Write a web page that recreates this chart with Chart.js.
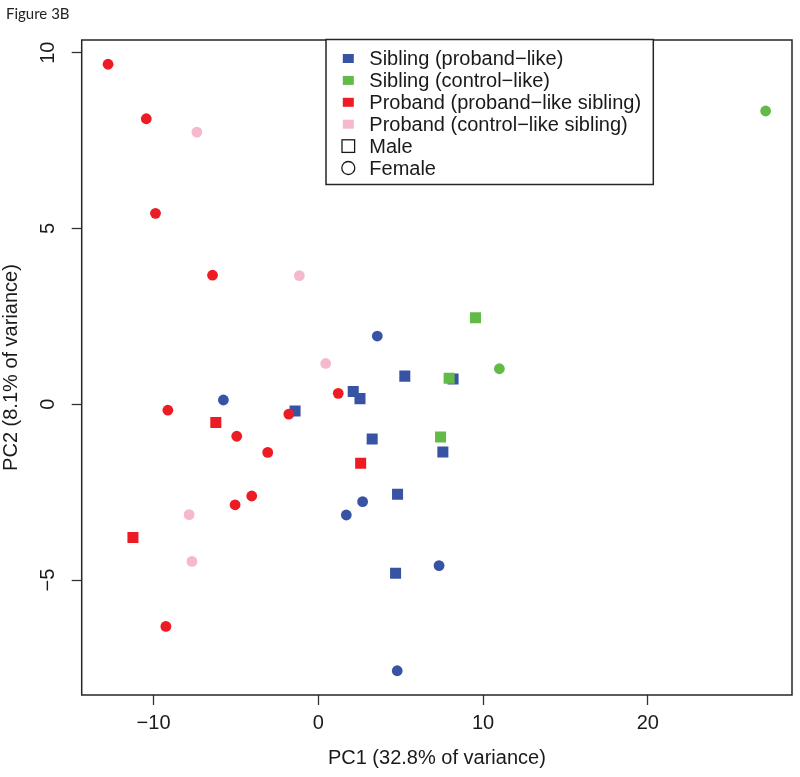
<!DOCTYPE html>
<html>
<head>
<meta charset="utf-8">
<script src="https://cdn.jsdelivr.net/npm/chart.js@4/dist/chart.umd.min.js"></script>
<style>
html,body{margin:0;padding:0;background:#fff;}
#wrap{width:800px;height:777px;position:relative;}
</style>
</head>
<body>
<div id="wrap"><canvas id="c" width="800" height="777"></canvas></div>
<script>
// ---------------- data ----------------
const figureTitle = 'Figure 3B';
const xAxisTitle = 'PC1 (32.8% of variance)';
const yAxisTitle = 'PC2 (8.1% of variance)';
const xTickValues = [-10, 0, 10, 20];
const yTickValues = [-5, 0, 5, 10];
const xRange = [-14.36, 28.75];
const yRange = [-8.27, 10.36];

const legendLabels = [
  'Sibling (proband\u2212like)',
  'Sibling (control\u2212like)',
  'Proband (proband\u2212like sibling)',
  'Proband (control\u2212like sibling)',
  'Male',
  'Female'
];

// [PC1, PC2]
const siblingProbandLikeMale = [
  [-1.41, -0.19], [2.12, 0.36], [2.53, 0.16], [5.25, 0.80], [8.18, 0.72],
  [3.27, -0.99], [7.56, -1.36], [4.81, -2.56], [4.69, -4.81]
];
const siblingProbandLikeFemale = [
  [3.58, 1.94], [-5.76, 0.12], [2.69, -2.77], [1.70, -3.15], [7.33, -4.59], [4.79, -7.58]
];
const siblingControlLikeMale = [
  [9.54, 2.46], [7.94, 0.74], [7.42, -0.93]
];
const siblingControlLikeFemale = [
  [10.99, 1.01], [27.15, 8.34]
];
const probandProbandLikeMale = [
  [-6.22, -0.52], [2.57, -1.68], [-11.25, -3.79]
];
const probandProbandLikeFemale = [
  [-12.76, 9.67], [-10.44, 8.12], [-9.88, 5.43], [-6.42, 3.67], [1.21, 0.31],
  [-9.13, -0.17], [-1.79, -0.28], [-4.95, -0.91], [-3.07, -1.37], [-4.04, -2.61],
  [-5.05, -2.86], [-9.25, -6.32]
];
const probandControlLikeFemale = [
  [-7.37, 7.74], [-1.15, 3.66], [0.45, 1.16], [-7.84, -3.14], [-7.67, -4.47]
];

// ---------------- styles ----------------
const BLUE = '#3953A4', GREEN = '#62BB47', RED = '#ED1C24', PINK = '#F6B9CB';
const FONT = '"Liberation Sans", Arial, Helvetica, sans-serif';
const INK = '#1a1a1a';
const CIRCLE_R = 5.4, RECT_R = 7.8;

const toPts = arr => arr.map(p => ({x: p[0], y: p[1]}));
function ds(label, data, color, shape, order) {
  return {
    label, data: toPts(data),
    backgroundColor: color, borderWidth: 0,
    pointStyle: shape, pointRadius: shape === 'rect' ? RECT_R : CIRCLE_R,
    pointHoverRadius: shape === 'rect' ? RECT_R : CIRCLE_R,
    order
  };
}

const datasets = [
  ds(legendLabels[2] + ' male', probandProbandLikeMale, RED, 'rect', 0),
  ds(legendLabels[2] + ' female', probandProbandLikeFemale, RED, 'circle', 0),
  ds(legendLabels[3] + ' female', probandControlLikeFemale, PINK, 'circle', 1),
  ds(legendLabels[1] + ' male', siblingControlLikeMale, GREEN, 'rect', 2),
  ds(legendLabels[1] + ' female', siblingControlLikeFemale, GREEN, 'circle', 2),
  ds(legendLabels[0] + ' male', siblingProbandLikeMale, BLUE, 'rect', 3),
  ds(legendLabels[0] + ' female', siblingProbandLikeFemale, BLUE, 'circle', 3)
];

const legendColors = [BLUE, GREEN, RED, PINK];

const framePlugin = {
  id: 'frameAndLegend',
  afterDraw(chart) {
    const {ctx, chartArea: a} = chart;
    ctx.save();
    // plot box
    ctx.strokeStyle = '#262626';
    ctx.lineWidth = 1.5;
    ctx.strokeRect(a.left, a.top, a.right - a.left, a.bottom - a.top);

    // legend box
    const bx = a.left + 244.3, by = a.top - 0.5, bw = 327.3, bh = 145;
    ctx.fillStyle = '#fff';
    ctx.fillRect(bx, by, bw, bh);
    ctx.strokeRect(bx, by, bw, bh);

    const mx = a.left + 266.6, tx = a.left + 287.6;
    ctx.font = '20px ' + FONT;
    ctx.textBaseline = 'middle';
    ctx.textAlign = 'left';
    legendLabels.forEach((lab, i) => {
      const cy = by + 19 + i * 21.9;
      if (i < 4) {
        ctx.fillStyle = legendColors[i];
        ctx.fillRect(mx - 5.5, cy - 4.5, 11, 9);
      } else if (i === 4) {
        ctx.strokeStyle = INK; ctx.lineWidth = 1.3;
        ctx.strokeRect(mx - 6.3, cy - 6.3, 12.6, 12.6);
      } else {
        ctx.strokeStyle = INK; ctx.lineWidth = 1.3;
        ctx.beginPath(); ctx.arc(mx, cy, 6.5, 0, Math.PI * 2); ctx.stroke();
      }
      ctx.fillStyle = INK;
      ctx.fillText(lab, tx, cy + 1);
    });
    ctx.restore();
  }
};

const minus = v => String(v).replace('-', '\u2212');

new Chart(document.getElementById('c'), {
  type: 'scatter',
  data: {datasets},
  options: {
    responsive: false,
    animation: false,
    devicePixelRatio: 1,
    events: [],
    layout: {padding: {left: 6, right: 8, top: 0, bottom: 0}, autoPadding: false},
    plugins: {
      legend: {display: false},
      tooltip: {enabled: false},
      title: {
        display: true, text: figureTitle, align: 'start',
        font: {family: 'Lato, "Open Sans", sans-serif', size: 15, weight: 'normal'},
        color: '#222', padding: {top: 5, bottom: 17}
      }
    },
    scales: {
      x: {
        type: 'linear', position: 'bottom', min: xRange[0], max: xRange[1],
        afterBuildTicks: s => { s.ticks = xTickValues.map(v => ({value: v})); },
        afterFit: s => { s.height = 82; },
        ticks: {
          font: {family: FONT, size: 20}, color: INK, padding: 6,
          autoSkip: false, maxRotation: 0, callback: minus
        },
        grid: {display: true, drawOnChartArea: false, drawTicks: true, tickLength: 10, tickColor: '#333', tickWidth: 1.3},
        border: {display: false},
        title: {display: true, text: xAxisTitle, font: {family: FONT, size: 20}, color: INK, padding: {top: 0, bottom: 7}}
      },
      y: {
        type: 'linear', position: 'left', min: yRange[0], max: yRange[1],
        afterBuildTicks: s => { s.ticks = yTickValues.map(v => ({value: v})); },
        afterFit: s => { s.width = 75.7; },
        ticks: {
          font: {family: FONT, size: 20}, color: INK, padding: 12,
          autoSkip: false, minRotation: 90, maxRotation: 90, crossAlign: 'center', callback: minus
        },
        grid: {display: true, drawOnChartArea: false, drawTicks: true, tickLength: 10, tickColor: '#333', tickWidth: 1.3},
        border: {display: false},
        title: {display: true, text: yAxisTitle, font: {family: FONT, size: 20, lineHeight: 0.5}, color: INK, padding: {top: 0, bottom: 0}}
      }
    }
  },
  plugins: [framePlugin]
});
</script>
</body>
</html>
